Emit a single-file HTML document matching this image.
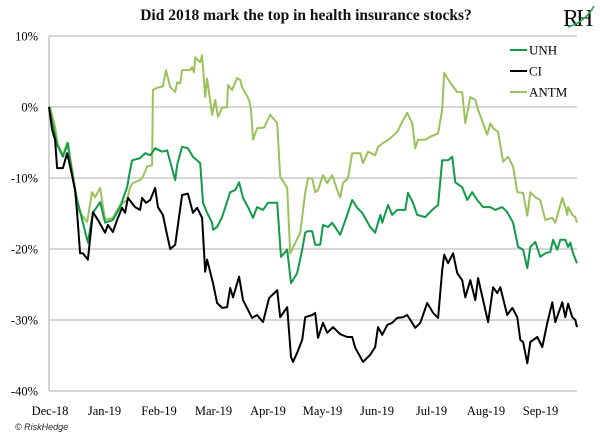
<!DOCTYPE html>
<html><head><meta charset="utf-8"><style>
body{margin:0;background:#fff;}
svg{display:block;font-family:"Liberation Serif",serif;}
</style></head><body>
<svg id="chart" width="600" height="439" viewBox="0 0 600 439" xmlns="http://www.w3.org/2000/svg">
<text x="306" y="20" text-anchor="middle" font-size="15.5" font-weight="bold" fill="#111">Did 2018 mark the top in health insurance stocks?</text>
<g>
<text x="563" y="26" font-size="24" fill="#111" font-family="Liberation Serif, serif" letter-spacing="-3">RH</text>
<path d="M568 27 Q585 22 594 6" stroke="#2aa84a" stroke-width="1.5" fill="none"/>
</g>
<g id="grid"></g>
<g id="yticks"></g>
<g id="xticks"></g>
<g id="lines"></g>
<g font-size="13">
<g><line x1="510" y1="50" x2="527" y2="50" stroke="#119a48" stroke-width="2"/><text x="529" y="54.5">UNH</text></g>
<g><line x1="510" y1="71" x2="527" y2="71" stroke="#000" stroke-width="2"/><text x="529" y="75.5">CI</text></g>
<g><line x1="510" y1="92" x2="527" y2="92" stroke="#9bc25a" stroke-width="2"/><text x="529" y="96.5">ANTM</text></g>
</g>
<text x="15" y="430" font-size="9" font-style="italic" font-family="Liberation Sans, sans-serif" fill="#222">© RiskHedge</text>
</svg>
<script>
const yTicks=[10,0,-10,-20,-30,-40];
const yTickLabels=["10%","0%","-10%","-20%","-30%","-40%"];
const xLabels=["Dec-18","Jan-19","Feb-19","Mar-19","Apr-19","May-19","Jun-19","Jul-19","Aug-19","Sep-19"];
const unhT=[0,2.9,5,6.8,8.6,10.4,12.2,14,15.8,18.4,20.2,23,25.6,28.1,29.2,29.9,32.8,34.6,36.4,38.2,40.7,42.5,43.6,45.4,46.1,47.9,50,51.8,54.4,55.4,56.9,58.7,59,60.5,62.3,65.2,67,68.4,69.8,71.6,73.4,74.9,77,78.8,82.1,83.5,85.7,87.1,89.3,91.1,92.2,92.9,94.7,95.8,97.6,98.6,100.4,101.9,104.8,107.3,109.1,110.9,112.7,115.6,117.4,119.2,119.9,122,123.5,125.3,128.2,129.2,131,132.5,135.4,137.9,140,141.5,143.6,145.1,146.2,148.7,150.5,152.3,154.1,156.2,158.8,160.6,163.1,164.9,167,168.8,170.6,172.1,173.2,175,176.8,178.6,180.4,181.4,182.9,184,185.8,186.8,187.6,188.6,190];
const unhV=[0,-5.3,-7,-5.1,-10.3,-13.5,-16.3,-19.1,-14.9,-13.4,-16.3,-15.9,-14.1,-11.3,-8.9,-7.5,-7.2,-6.5,-6.8,-5.8,-6.3,-6.1,-7.7,-10.3,-8.2,-5.6,-5.8,-7,-7.9,-13.5,-14.9,-16.3,-17.3,-16.9,-15.5,-12,-11.7,-10.6,-12.8,-14.1,-15.6,-14.1,-14.5,-13.5,-13.5,-21.1,-20.1,-24.8,-23.4,-20.1,-17.7,-17.5,-17.5,-19.4,-19.4,-16.6,-16.9,-16.3,-18,-15.2,-13.1,-14.2,-14.9,-16.9,-17.7,-15.2,-16.3,-13.8,-15.2,-14.5,-14.5,-12.1,-13.5,-15.2,-15.5,-14.5,-13.8,-7.5,-7.5,-7,-10.6,-11.3,-13.1,-12,-13.1,-14.1,-14.1,-14.5,-14.1,-14.8,-16.3,-19.7,-20.1,-22.7,-19.7,-19,-21.1,-20.6,-20.4,-18.7,-20.1,-18.7,-18.7,-19.7,-19.1,-20.6,-22];
const ciT=[0,1.1,2.2,2.9,5,6.5,8.3,9.4,10.1,11.2,12.2,14,15.8,17.6,20.2,21.2,23,24.5,26.3,27.4,28.4,31,32.8,33.5,34.9,36.4,38.2,39.2,41,42.1,43.6,45.4,47.9,50,51.8,53.3,55.1,56.2,56.9,59,60.5,62.3,64.1,65.2,66.2,68.4,69.8,73.1,74.9,77,79.2,82.1,83.2,85.7,87.1,87.8,89.3,91.1,92.2,94.7,95.8,96.8,98.6,100.1,102.2,104.8,107.3,109.1,110.2,113,115.6,117.4,118.4,119.9,121.7,123.5,125.3,127.4,128.9,131.8,133.6,136.1,138.2,140,141.5,142.2,143.6,145.4,146.9,148.7,149.8,151.6,153.4,154.4,156.2,158,159.8,161.3,162.4,164.9,166.7,168.5,169.6,170.6,172.1,173.2,175.7,177.5,179.3,181.1,182.2,184.7,185.8,186.8,188.3,189.4,190];
const ciV=[0,-3.2,-4.6,-8.6,-8.6,-6.5,-9.6,-11.7,-14.9,-20.6,-20.6,-21.5,-14.8,-15.9,-17.7,-16.6,-17.6,-15.9,-14.2,-14.9,-12.8,-14.1,-14.5,-12.8,-13.5,-13.1,-11.4,-14.1,-15.2,-17.3,-20,-19.4,-12.4,-12.2,-14.9,-14.2,-15.6,-23.2,-21.5,-24.8,-27.6,-28.3,-28.2,-25.5,-26.8,-23.9,-27.2,-29.7,-29.3,-30.3,-26.9,-25.8,-29.6,-28.2,-35.2,-35.9,-34.6,-32.8,-29.6,-29.3,-29,-32.5,-30.4,-31.8,-31,-32,-32.4,-32.4,-33.9,-35.9,-34.9,-33.8,-31,-32.1,-30.7,-30.4,-29.7,-29.6,-29.3,-31.1,-30.4,-27.6,-29,-29.7,-23,-20.8,-22,-20.6,-23.4,-24.4,-26.8,-24.4,-27.2,-24.1,-27.2,-30.3,-25.4,-26.2,-25.4,-29.3,-28.3,-29.6,-32.8,-33.1,-36.1,-33.1,-32.4,-33.8,-30.4,-27.5,-30.3,-27.5,-29.6,-27.7,-29.6,-30,-31];
const antmT=[0,0.4,2.2,3.2,5,6.5,8.6,10.4,13.7,15.5,16.6,18.4,20.2,23,25.6,28.1,29.2,30.2,32.8,33.8,35.3,37.1,37.4,38.9,41,42.1,43.6,45.4,46.1,47.2,47.9,50.8,51.5,52.2,52.6,54.4,55.1,56.2,56.9,58.7,59.8,60.8,62.3,64.1,64.4,65.9,67.7,68.8,69.5,70.6,72,72.7,73.4,74.9,77.4,79.6,82.1,83.2,85.7,86.8,87.8,90.4,92.2,93.2,94.7,95.8,96.8,98.6,100.1,101.9,103.7,104.8,105.8,107.6,109.1,112,113,114.8,117.4,118.4,120.2,122.8,125.3,127.1,128.9,130.7,131.8,132.8,135.4,137.2,140,141.5,142.2,144.4,146.9,148.7,149.8,151.6,153.4,154.4,157.7,158.8,159.8,161.6,163.4,165.2,167,168.5,170.6,172.1,173.2,175,176.8,178.6,181.1,182.2,184.7,185.8,186.5,186.8,188.3,189.4,190];
const antmV=[0,0,-2.8,-5.3,-6.8,-5,-9.3,-14.5,-16.2,-12,-12.7,-11.4,-15.9,-15.6,-13.8,-13.1,-11.3,-10.7,-10.3,-9.8,-8.4,-8.2,2.4,2.7,2.9,5.2,2.8,2.1,3.5,3.3,5.2,5.2,5.6,4.9,7,6.3,7.3,1.4,4,-1.1,1,-1.4,-0.1,0,3.1,2.4,4.1,3.8,2.8,2,1,-0.4,-4.6,-3,-2.9,-1.1,-2.3,-9.8,-11.4,-20.6,-19.8,-17.7,-12.1,-10,-10.1,-12,-11.7,-9.6,-10.7,-9.6,-11.7,-12.7,-10.7,-10,-6.5,-6.5,-7.9,-6.3,-6.8,-5.6,-5.1,-4.4,-3.5,-2.1,-0.8,-2.3,-5.8,-4.6,-4.6,-4.2,-3.7,-0.4,4.8,3.4,2.1,2.1,-2.3,1.4,1,-0.4,-3.9,-2.3,-3,-3.5,-7.7,-7,-8.4,-12,-12.1,-15.3,-12,-12.7,-13.1,-15.9,-15.6,-16.3,-12.8,-14.1,-15.2,-14.1,-15.2,-15.5,-16.3];

const NS="http://www.w3.org/2000/svg";
const X0=49,X1=577,TMAX=190,Y0=107,PXPER=7.1;
function xs(t){return X0+t/TMAX*(X1-X0);}
function ys(v){return Y0-v*PXPER;}
const grid=document.getElementById('grid');
const yt=document.getElementById('yticks');
yTicks.forEach((v,i)=>{
  const l=document.createElementNS(NS,'line');
  
  
  l.setAttribute('x1',X0);l.setAttribute('x2',X1);
  l.setAttribute('y1',ys(v));l.setAttribute('y2',ys(v));
  l.setAttribute('stroke','#bdbdbd');l.setAttribute('stroke-width','1.3');
  grid.appendChild(l);
  const t=document.createElementNS(NS,'text');
  
  
  t.setAttribute('x',38);t.setAttribute('y',ys(v)+4.5);
  t.setAttribute('text-anchor','end');t.setAttribute('font-size','12.5');
  t.textContent=yTickLabels[i];yt.appendChild(t);
});
const ax=document.createElementNS(NS,'line');


ax.setAttribute('x1',X0);ax.setAttribute('x2',X0);ax.setAttribute('y1',ys(yTicks[0]));ax.setAttribute('y2',ys(yTicks[yTicks.length-1]));
ax.setAttribute('stroke','#bdbdbd');ax.setAttribute('stroke-width','1.3');
grid.appendChild(ax);
const xt=document.getElementById('xticks');
xLabels.forEach((s,i)=>{
  const t=document.createElementNS(NS,'text');
  
  
  t.setAttribute('x',50+i*54.5);t.setAttribute('y',415);
  t.setAttribute('text-anchor','middle');t.setAttribute('font-size','12.5');
  t.textContent=s;xt.appendChild(t);
});
const lines=document.getElementById('lines');
function draw(T,V,color,name){
  const p=document.createElementNS(NS,'polyline');
  
  
  p.setAttribute('points',T.map((t,i)=>xs(t).toFixed(1)+','+ys(V[i]).toFixed(1)).join(' '));
  p.setAttribute('fill','none');p.setAttribute('stroke',color);
  p.setAttribute('stroke-width','2');p.setAttribute('stroke-linejoin','round');
  lines.appendChild(p);
}
draw(antmT,antmV,'#9bc25a','antm-line');
draw(unhT,unhV,'#119a48','unh-line');
draw(ciT,ciV,'#000000','ci-line');
</script>
</body></html>
